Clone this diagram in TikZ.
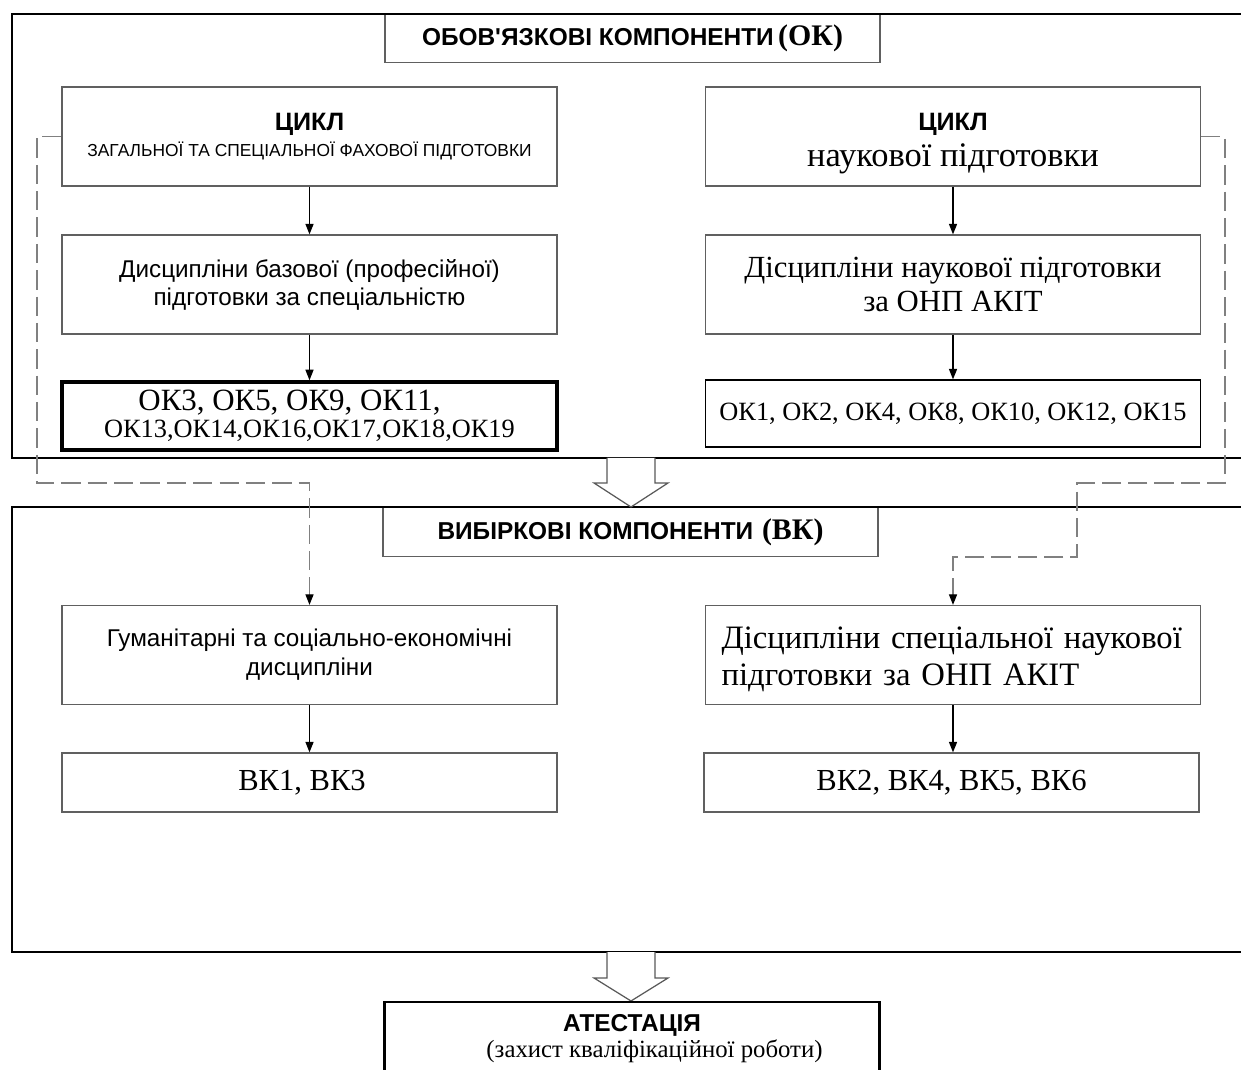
\documentclass[tikz,border=0pt]{standalone}
\usepackage{fontspec}
\setmainfont{Liberation Serif}
\newfontfamily\arialfont{Liberation Sans}
\newfontfamily\tnrfont{Liberation Serif}
\usetikzlibrary{arrows.meta}

\begin{document}
\begin{tikzpicture}[x=0.02cm,y=-0.02cm,
        >={Triangle[length=6pt,width=4.6pt]},
        box/.style={draw=gray!75!black, line width=0.7pt, fill=white, minimum width=9.9cm, minimum height=1.98cm, align=center, inner sep=0pt},
        smallbox/.style={box, minimum height=1.18cm},
        titlebox/.style={box, minimum height=0.98cm},
        frame/.style={line width=1.6pt},
        link/.style={black, line width=0.7pt, ->},
        dashlink/.style={gray, line width=0.7pt, dash pattern=on 11pt off 4pt, -{Triangle[length=6pt,width=4.6pt,color=black]}},
        hollow/.style={draw=gray!70!black, fill=white, line width=0.7pt}]
    \useasboundingbox (0,0) rectangle (1241,1070);

    \node[titlebox] (okTitle) at (632.5,38) {{\arialfont\bfseries\fontsize{13.9}{16}\selectfont ОБОВ'ЯЗКОВІ КОМПОНЕНТИ} {\tnrfont\bfseries\fontsize{17}{18}\selectfont (ОК)}};
    \node[titlebox] (vkTitle) at (630.5,532) {{\arialfont\bfseries\fontsize{13.9}{16}\selectfont ВИБІРКОВІ КОМПОНЕНТИ}\ \ {\tnrfont\bfseries\fontsize{17}{18}\selectfont (ВК)}};

    \draw[frame] (1245,14) -- (12,14) -- (12,458) -- (1245,458);
    \draw[frame] (1245,507) -- (12,507) -- (12,952) -- (1245,952);

    \draw[hollow] (607,458) -- (607,483) -- (594,483) -- (631,507) -- (668,483) -- (655,483) -- (655,458);
    \draw[hollow] (607,952) -- (607,978) -- (594,978) -- (631,1001) -- (668,978) -- (655,978) -- (655,952);

    \node[box, font=\fontsize{10}{14.7}\selectfont] (cycGen) at (309.5,136.5) {{\arialfont\bfseries\fontsize{14.3}{14.7}\selectfont ЦИКЛ}\\
        {\arialfont\fontsize{9.9}{14.7}\selectfont ЗАГАЛЬНОЇ ТА СПЕЦІАЛЬНОЇ ФАХОВОЇ ПІДГОТОВКИ}};
    \node[box, font=\fontsize{10}{20.6}\selectfont] (cycSci) at (953,136.5) {\rule{0pt}{18pt}{\arialfont\bfseries\fontsize{14.3}{19.8}\selectfont ЦИКЛ}\\
        {\tnrfont\fontsize{19.6}{20.6}\selectfont наукової підготовки}};

    \node[box, font=\arialfont\fontsize{13.8}{16}\selectfont] (discBase) at (309.5,284.5) {Дисципліни базової (професійної)\\підготовки за спеціальністю};
    \node[box, font=\tnrfont\fontsize{17.5}{19}\selectfont] (discSci) at (953,284.5) {Дісципліни наукової підготовки\\за ОНП АКІТ};

    \node[box, minimum height=1.36cm, line width=2pt, draw=black, font=\tnrfont\fontsize{15}{15.3}\selectfont] (okBase) at (309.5,416) {\hspace*{-0.8cm}{\fontsize{17.6}{15.3}\selectfont ОК3, ОК5, ОК9, ОК11,}\\ОК13,ОК14,ОК16,ОК17,ОК18,ОК19};
    \node[box, minimum height=1.34cm, draw=black, font=\tnrfont\fontsize{15}{17}\selectfont] (okSci) at (953,413.5) {ОК1, ОК2, ОК4, ОК8, ОК10, ОК12, ОК15};

    \node[box, font=\arialfont\fontsize{13.8}{16.5}\selectfont] (vkHum) at (309.5,655) {Гуманітарні та соціально-економічні\\дисципліни};
    \node[box, text width=9.26cm, align=left, font=\tnrfont\fontsize{18.6}{21}\selectfont] (vkSci) at (953,655) {\rule{0pt}{17pt}Дісципліни спеціальної наукової\\підготовки за ОНП АКІТ};

    \node[smallbox, font=\tnrfont\fontsize{17.4}{18}\selectfont] (vkHumList) at (309.5,782.5) {\hspace*{-0.3cm}ВК1, ВК3};
    \node[smallbox, font=\tnrfont\fontsize{17.4}{18}\selectfont] (vkSciList) at (951.5,782.5) {ВК2, ВК4, ВК5, ВК6};

    \node[box, anchor=north, minimum height=1.44cm, line width=1.4pt, draw=black, font=\fontsize{10}{14.7}\selectfont] (atest) at (632,1001) {{\arialfont\bfseries\fontsize{13.9}{14.7}\selectfont АТЕСТАЦІЯ}\\
        \hspace*{0.9cm}{\tnrfont\fontsize{14.1}{14.7}\selectfont (захист кваліфікаційної роботи)}};

    \draw[link] (cycGen) -- (discBase);
    \draw[link] (discBase) -- (okBase);
    \draw[link] (cycSci) -- (discSci);
    \draw[link] (discSci) -- (okSci);
    \draw[link] (vkHum.south) -- (vkHumList.north);
    \draw[link] (vkSci.south) -- (vkSciList.north -| vkSci.south);

    \draw[dashlink] (cycGen.west) -| (37,483) -| (vkHum.north);
    \draw[dashlink] (cycSci.east) -| (1225,483) -| (1077,557) -| (vkSci.north);
\end{tikzpicture}
\end{document}
